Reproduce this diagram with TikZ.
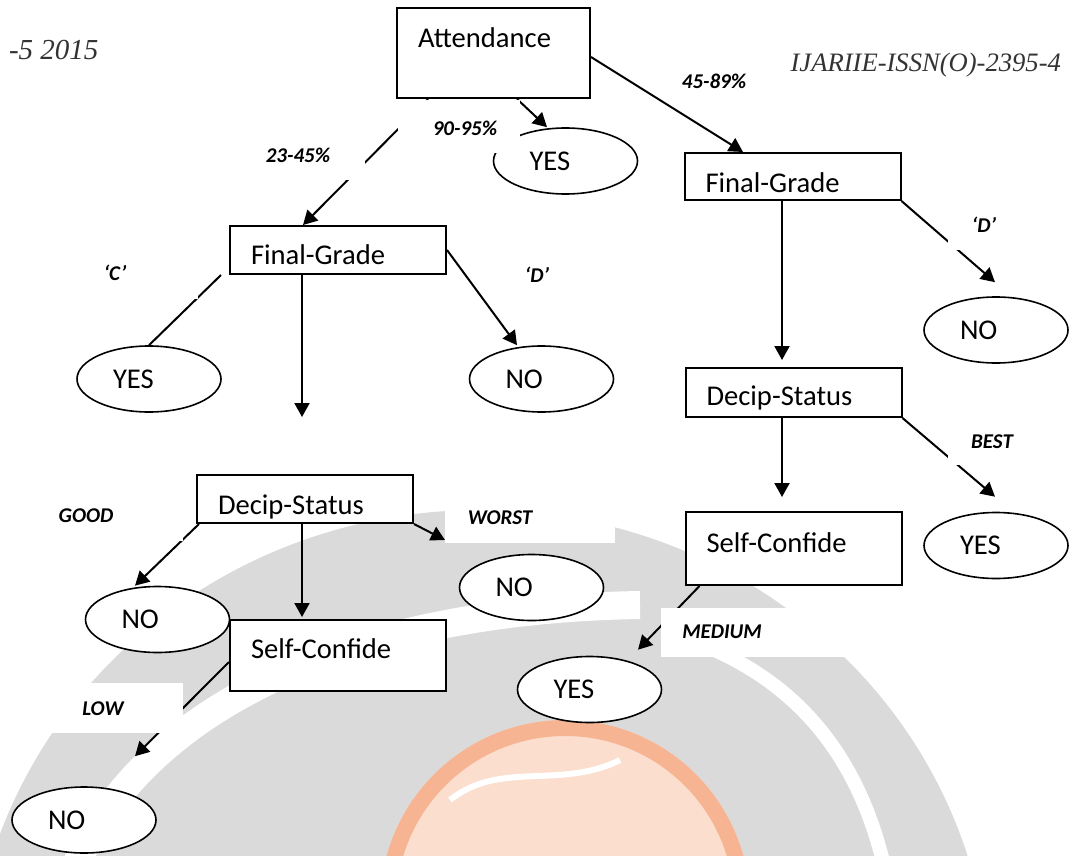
\documentclass[tikz,border=0pt]{standalone}
\usepackage{fontspec}
\setmainfont{Carlito}
\newfontfamily\hdrfont{Liberation Serif}
\usetikzlibrary{arrows.meta,shapes.geometric,calc}

\definecolor{wmgray}{RGB}{218,218,218}
\definecolor{globe}{RGB}{251,222,206}
\definecolor{globerim}{RGB}{246,180,146}

\tikzset{
  box/.style={draw, line width=1pt, fill=white, inner sep=0pt, minimum width=108pt,
    text width=87pt, align=left, font=\fontsize{14.3}{17}\selectfont},
  leaf/.style={draw, ellipse, line width=0.8pt, fill=white, inner sep=0pt,
    minimum width=72pt, minimum height=33pt, text width=36pt, align=left,
    font=\fontsize{14.3}{17}\selectfont},
  branch/.style={font=\fontsize{10.5}{12}\selectfont\bfseries\itshape},
  link/.style={line width=1pt, -{Triangle[length=7pt,width=7.5pt]}},
  mask/.style={fill=white},
  header/.style={font=\hdrfont\itshape\fontsize{14.5}{18}\selectfont, text=black!80}
}

\begin{document}
\begin{tikzpicture}[x=0.5pt,y=-0.5pt]
\useasboundingbox (0,0) rectangle (1070,856);

% watermark
\begin{scope}
\clip (0,0) rectangle (1070,856);
\fill[wmgray] (480,1000) ellipse [x radius=510, y radius=490];
\draw[white, line width=14pt] (70,880) .. controls (130,720) and (330,610) .. (640,605);
\draw[white, line width=7pt] (690,640) .. controls (800,680) and (860,760) .. (885,870);
\fill[globe] (565,905) circle [radius=185];
\draw[globerim, line width=8pt] (565,905) circle [radius=177];
\draw[white, line width=3pt] (450,800) .. controls (500,760) and (560,790) .. (620,760);
\end{scope}

% page header
\node[header, anchor=base west] (hdl) at (2,60) {-5 2015};
\node[header, anchor=base east, font=\hdrfont\itshape\fontsize{13.3}{16}\selectfont] (hdr) at (1068,72) {IJARIIE-ISSN(O)-2395-4};

% tree
\node[box, minimum width=96.5pt, text width=75.5pt, minimum height=45pt, text height=9pt, text depth=14pt] (att) at (493.5,53) {Attendance};
\node[leaf] (yes1) at (565.5,161) {YES};
\node[box, minimum height=23.5pt, text height=16pt, text depth=0pt] (fgr) at (792.5,176.5) {Final-Grade};
\node[box, minimum height=24pt, text height=14pt, text depth=0pt] (fgl) at (338,250) {Final-Grade};
\node[leaf] (yesc) at (149,379) {YES};
\node[leaf] (nod1) at (541.5,379) {NO};
\node[leaf] (nod2) at (996,330) {NO};
\node[box, minimum height=24.5pt, text height=12.5pt, text depth=0pt] (dsr) at (793.5,392.5) {Decip-Status};
\node[leaf] (yesbest) at (996,545.5) {YES};
\node[box, minimum height=36.5pt, text height=9pt, text depth=5.5pt] (scr) at (793.5,548.5) {Self-Confide};
\node[leaf] (yesmed) at (589.5,689.5) {YES};
\node[box, minimum height=24pt, text height=15pt, text depth=0pt] (dsl) at (305,499) {Decip-Status};
\node[leaf] (nogood) at (157.5,619.5) {NO};
\node[leaf] (noworst) at (531.5,587.5) {NO};
\node[box, minimum height=35.5pt, text height=9pt, text depth=6.5pt] (scl) at (338,655.5) {Self-Confide};
\node[leaf] (nolow) at (84,820) {NO};

\coordinate (fgend) at (302,417);
\coordinate (wend) at (445,540);

% branches
\draw[link] ($(att.south)+(23.5,0)$) -- ($(yes1.north)+(-18.5,0)$);
\draw[link] ($(att.south)+(-65.5,0)$) -- ($(fgl.north)+(-35,0)$);
\draw[link] ($(att.east)+(0,4)$) -- ($(fgr.north)+(-49.5,0)$);
\draw[line width=1pt] ($(fgl.south west)+(-8,0)$) -- (yesc.north);
\draw[link] ($(fgl.south)+(-36,0)$) -- (fgend);
\draw[link] (fgl.east) -- ($(nod1.north)+(-24.5,0)$);
\draw[link] (fgr.south east) -- ($(nod2.north)+(-1,-14)$);
\draw[link] ($(fgr.south)+(-10.5,0)$) -- ($(dsr.north)+(-11.5,-7)$);
\draw[link] (dsr.south east) -- ($(yesbest.north)+(-1,-15)$);
\draw[link] ($(dsr.south)+(-11.5,0)$) -- ($(scr.north)+(-11.5,-14)$);
\draw[link] ($(scr.south west)+(15,0)$) -- ($(yesmed.north)+(48.5,-6)$);
\draw[link] ($(dsl.south west)+(3,0)$) -- ($(nogood.north)+(-22.5,0)$);
\draw[link] ($(dsl.south)+(-3,0)$) -- ($(scl.north)+(-36,-2)$);
\draw[link] (dsl.south east) -- (wend);
\draw[link] ($(scl.west)+(0,6.5)$) -- ($(nolow.north)+(51,-30)$);

% label boxes
\foreach \xa/\ya/\xb/\yb in {398/100/520/153, 231/130/365/180, 32/247/198/299,
    948/200/1018/250, 948/419/1036/465, 0/491/183/541, 445/493/615/543,
    661/608/860/657, 0/683/183/733}
  \fill[mask] (\xa,\ya) rectangle (\xb,\yb);

\node[branch] (l90) at (465,128.5) {90-95\%};
\node[branch] (l45) at (714,81.5) {45-89\%};
\node[branch] (l23) at (298,155) {23-45\%};
\node[branch] (lc) at (115,273) {‘C’};
\node[branch] (ldl) at (537,275) {‘D’};
\node[branch] (ldr) at (984,225) {‘D’};
\node[branch] (lbest) at (992,442) {BEST};
\node[branch] (lgood) at (86,516) {GOOD};
\node[branch] (lworst) at (500,518) {WORST};
\node[branch] (lmed) at (722,632) {MEDIUM};
\node[branch] (llow) at (103,709) {LOW};
\end{tikzpicture}
\end{document}
